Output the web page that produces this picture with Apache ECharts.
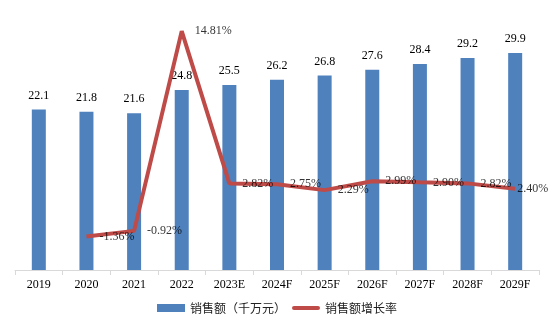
<!DOCTYPE html>
<html><head><meta charset="utf-8">
<script src="https://cdn.jsdelivr.net/npm/echarts@6/dist/echarts.min.js"></script>
<style>html,body{margin:0;padding:0;background:#fff}#c{width:554px;height:322px}</style>
</head><body><div id="c"></div>
<script>
var categories = ['2019','2020','2021','2022','2023E','2024F','2025F','2026F','2027F','2028F','2029F'];
var salesValues = [22.1, 21.8, 21.6, 24.8, 25.5, 26.2, 26.8, 27.6, 28.4, 29.2, 29.9];
var growthValues = [null, -1.36, -0.92, 14.81, 2.82, 2.75, 2.29, 2.99, 2.90, 2.82, 2.40];
var seriesNames = ['销售额（千万元）', '销售额增长率'];

var serif = '"Liberation Serif", "Times New Roman", serif';
var cjk = '"Noto Sans CJK SC", sans-serif';

var chart = echarts.init(document.getElementById('c'));
chart.setOption({
  animation: false,
  backgroundColor: '#fff',
  grid: { left: 15, right: 15, top: 16, bottom: 52, containLabel: false },
  legend: {
    bottom: 3, left: 'center', itemGap: 6, itemWidth: 28, itemHeight: 8,
    symbolKeepAspect: true,
    textStyle: { fontFamily: cjk, fontSize: 12, color: '#222' },
    data: [
      { name: seriesNames[0], icon: 'rect' },
      { name: seriesNames[1], icon: 'path://M2,0L26,0A2,2 0 0 1 26,4L2,4A2,2 0 0 1 2,0Z' }
    ]
  },
  xAxis: {
    type: 'category', data: categories,
    axisLine: { lineStyle: { color: '#d9d9d9', width: 1 } },
    axisTick: { show: true, length: 5, lineStyle: { color: '#d9d9d9' } },
    axisLabel: { color: '#000', fontFamily: serif, fontSize: 12, margin: 9 }
  },
  yAxis: [
    { type: 'value', min: 0, max: 35, show: false, splitLine: { show: false } },
    { type: 'value', min: -4, max: 16, show: false, splitLine: { show: false } }
  ],
  series: [
    {
      name: seriesNames[0], type: 'bar', yAxisIndex: 0, data: salesValues,
      barWidth: 14,
      itemStyle: { color: '#4f81bd' },
      label: { show: true, position: 'top', distance: 8, color: '#000', fontFamily: serif, fontSize: 12 }
    },
    {
      name: seriesNames[1], type: 'line', yAxisIndex: 1, z: 5,
      data: growthValues,
      symbol: 'none', connectNulls: false,
      lineStyle: { color: '#be4b48', width: 4 },
      itemStyle: { color: '#be4b48' }
    },
    {
      name: 'growthLabels', type: 'scatter', yAxisIndex: 1, z: 6,
      symbolSize: 0, silent: true,
      data: growthValues.map(function (v, i) {
        var item = { value: v };
        if (i === growthValues.length - 1) item.label = { distance: 2 };
        return item;
      }),
      label: {
        show: true, position: 'right', distance: 13, color: '#000', fontFamily: serif, fontSize: 12,
        formatter: function (p) { return p.value == null ? '' : p.value.toFixed(2) + '%'; }
      }
    }
  ]
});
</script></body></html>
